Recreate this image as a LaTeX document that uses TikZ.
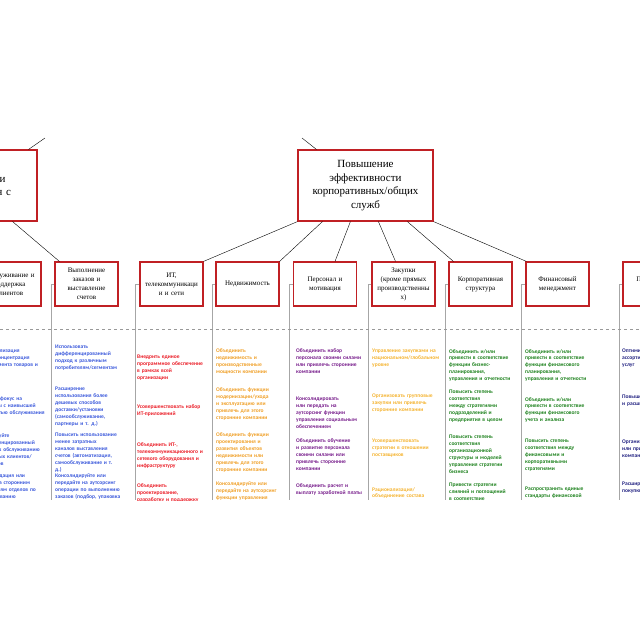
\documentclass[tikz,border=0pt]{standalone}
\usepackage{fontspec}
\setmainfont{Liberation Serif}
\newfontfamily\colfont{Carlito}
\begin{document}
\begin{tikzpicture}[x=1pt,y=-1pt,
  box/.style={draw=boxred,fill=white,line width=1.2pt,align=center,inner sep=1pt,font=\fontsize{7}{9}\selectfont},
  sbox/.style={box,minimum width=63pt,minimum height=44pt,text width=61pt},
  bbox/.style={box,minimum width=135pt,minimum height=71pt,text width=130pt,font=\fontsize{11}{13.5}\selectfont},
  conn/.style={draw=black,line width=0.4pt},
  vline/.style={draw=gray!70,line width=0.7pt},
  item/.style={anchor=north west,inner sep=0pt,text width=66pt,align=left,font=\colfont\bfseries\fontsize{5.5}{6.9}\selectfont}]
\definecolor{boxred}{RGB}{192,32,36}
\definecolor{cblue}{RGB}{60,90,220}
\definecolor{cred}{RGB}{235,30,40}
\definecolor{corange}{RGB}{240,160,40}
\definecolor{cpurple}{RGB}{120,30,140}
\definecolor{cyellow}{RGB}{245,180,50}
\definecolor{cgreen}{RGB}{30,130,30}
\definecolor{cnavy}{RGB}{35,35,130}
\useasboundingbox (0,0) rectangle (640,640);
\fill[white] (0,0) rectangle (640,640);
\begin{scope}
\clip (0,0) rectangle (640,500);
% top boxes
\node[bbox] (left) at (-30.5,185.5) {Повышение\\эффективности\\взаимодействия с\\клиентами};
\node[bbox] (main) at (365.5,185.5) {Повышение\\эффективности\\корпоративных/общих\\служб};
\coordinate (tl) at (45,138);
\coordinate (tm) at (302,138);
% small boxes
\node[sbox] (b1) at (9.5,284) {Обслуживание и\\поддержка\\клиентов};
\node[sbox] (b2) at (86.5,284) {Выполнение\\заказов и\\выставление\\счетов};
\node[sbox] (b3) at (171.5,284) {ИТ,\\телекоммуникаци\\и и сети};
\node[sbox] (b4) at (247.5,284) {Недвижимость};
\node[sbox] (b5) at (325,284) {Персонал и\\мотивация};
\node[sbox] (b6) at (403.5,284) {Закупки\\(кроме прямых\\производственны\\х)};
\node[sbox] (b7) at (480.5,284) {Корпоративная\\структура};
\node[sbox] (b8) at (557.5,284) {Финансовый\\менеджмент};
\node[sbox] (b9) at (654.5,284) {Продукты и\\услуги};
% connectors
\draw[conn] (tl) -- ([xshift=-9pt]left.north east);
\draw[conn] (tm) -- ([xshift=19pt]main.north west);
\draw[conn] ([xshift=-25pt]left.south east) -- ([xshift=5pt]b2.north west);
\draw[conn] (main.south west) -- (b3.north east);
\draw[conn] ([xshift=25pt]main.south west) -- (b4.north east);
\draw[conn] ([xshift=53pt]main.south west) -- ([xshift=10pt]b5.north);
\draw[conn] ([xshift=81pt]main.south west) -- ([xshift=-8pt]b6.north);
\draw[conn] ([xshift=110pt]main.south west) -- ([xshift=5pt]b7.north west);
\draw[conn] (main.south east) -- ([xshift=1pt]b8.north west);
% vertical lines
\foreach \b/\x in {b2/51,b3/135,b4/212,b5/289,b6/368,b7/445,b8/521,b9/619}{
  \coordinate (v\b) at (\x,500);
  \draw[vline] (\b.west) -- (\x,284) -- (v\b);
}
% dashed separator
\coordinate (dl) at (0,329); \coordinate (dr) at (640,329);
\draw[gray!80,dashed,line width=0.5pt] (dl) -- (dr);
\begin{scope}[every node/.style={item,text=cblue}]
\node (c11) at (-21,349) {Рационализация и/или концентрация ассортимента товаров и услуг};
\node (c12) at (-21,397) {Сделать фокус на сегменты с наивысшей стоимостью обслуживания};
\node (c13) at (-21,434) {Используйте дифференцированный подход к обслуживанию различных клиентов/ сегментов};
\node (c14) at (-21,474) {Консолидация или передача сторонним компаниям отделов по обслуживанию};
\node (c21) at (55,345) {Использовать дифференцированный подход к различным потребителям/сегментам};
\node (c22) at (55,387) {Расширение использования более дешевых способов доставки/установки (самообслуживание, партнеры и т. д.)};
\node (c23) at (55,433) {Повысить использование менее затратных каналов выставления счетов (автоматизация, самообслуживание и т. д.)};
\node (c24) at (55,474) {Консолидируйте или передайте на аутсорсинг операции по выполнению заказов (подбор, упаковка и отгрузка)};
\end{scope}
\begin{scope}[every node/.style={item,text=cred}]
\node (c31) at (137,355) {Внедрить единое программное обеспечение в рамках всей организации};
\node (c32) at (137,405) {Усовершенствовать набор ИТ-приложений};
\node (c33) at (137,443) {Объединить ИТ-, телекоммуникационного и сетевого оборудования и инфраструктуру};
\node (c34) at (137,484) {Объединить проектирование, разработку и поддержку};
\end{scope}
\begin{scope}[every node/.style={item,text=corange}]
\node (c41) at (216,349) {Объединить недвижимость и производственные мощности компании};
\node (c42) at (216,388) {Объединить функции модернизации/ухода и эксплуатацию или привлечь для этого сторонние компании};
\node (c43) at (216,433) {Объединить функции проектирования и развития объектов недвижимости или привлечь для этого сторонние компании};
\node (c44) at (216,482) {Консолидируйте или передайте на аутсорсинг функции управления};
\end{scope}
\begin{scope}[every node/.style={item,text=cpurple}]
\node (c51) at (296,349) {Объединить набор персонала своими силами или привлечь сторонние компании};
\node (c52) at (296,397) {Консолидировать или передать на аутсорсинг функции управления социальным обеспечением};
\node (c53) at (296,439) {Объединить обучение и развитие персонала своими силами или привлечь сторонние компании};
\node (c54) at (296,484) {Объединить расчет и выплату заработной платы};
\end{scope}
\begin{scope}[every node/.style={item,text=cyellow}]
\node (c61) at (372,349) {Управление закупками на национальном/глобальном уровне};
\node (c62) at (372,394) {Организовать групповые закупки или привлечь сторонние компании};
\node (c63) at (372,439) {Усовершенствовать стратегии в отношении поставщиков};
\node (c64) at (372,487) {Рационализация/ объединение состава};
\end{scope}
\begin{scope}[every node/.style={item,text=cgreen}]
\node (c71) at (449,349) {Объединить и/или привести в соответствие функции бизнес-планирования, управления и отчетности};
\node (c72) at (449,390) {Повысить степень соответствия между стратегиями подразделений и предприятия в целом};
\node (c73) at (449,435) {Повысить степень соответствия организационной структуры и моделей управления стратегии бизнеса};
\node (c74) at (449,483) {Привести стратегии слияний и поглощений в соответствие};
\node (c81) at (525,349) {Объединить и/или привести в соответствие функции финансового планирования, управления и отчетности};
\node (c82) at (525,397) {Объединить и/или привести в соответствие функции финансового учета и анализа};
\node (c83) at (525,439) {Повысить степень соответствия между финансовыми и корпоративными стратегиями};
\node (c84) at (525,487) {Распространить единые стандарты финансовой};
\end{scope}
\begin{scope}[every node/.style={item,text=cnavy}]
\node (c91) at (622,349) {Оптимизировать ассортимент товаров и услуг};
\node (c92) at (622,395) {Повышение модульности и расширение масштабов};
\node (c93) at (622,440) {Организовать НИОКР или привлечь сторонние компании};
\node (c94) at (622,482) {Расширение каналов покупки};
\end{scope}
\end{scope}
\end{tikzpicture}
\end{document}
